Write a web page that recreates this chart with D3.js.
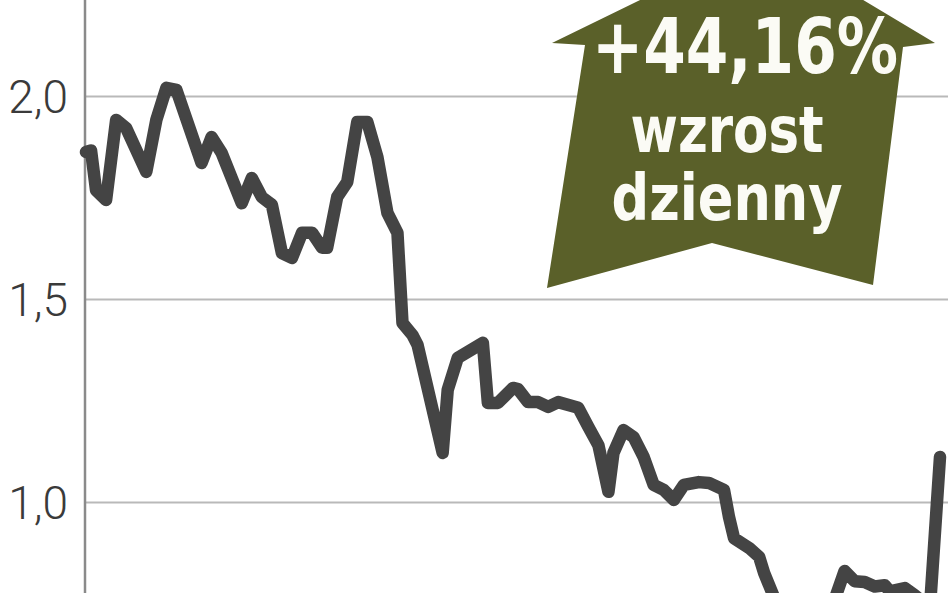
<!DOCTYPE html>
<html>
<head>
<meta charset="utf-8">
<script src="https://cdn.jsdelivr.net/npm/d3@7"></script>
<style>
  html, body { margin: 0; padding: 0; background: #fff; }
  svg { display: block; }
</style>
</head>
<body>
<svg id="chart" width="948" height="593"></svg>
<script>
(function() {
// kurs akcji - sesje i ceny zamkniecia

var sessions = [0, 1, 2, 4, 6, 8, 12, 14, 16, 18, 23, 25, 27, 31, 33, 35, 37, 39, 41, 43,
  45, 47, 48, 50, 52, 54, 56, 58, 60, 62, 63, 65, 66, 71, 72, 74, 79, 80, 82, 85,
  86, 88, 90, 92, 94, 98, 100, 102, 104, 105, 107, 109, 111, 113, 115, 117, 119, 122, 124, 127,
  128, 129, 132, 134, 135, 138, 140, 143, 146, 149, 151, 153, 155, 157, 159, 160, 163, 165, 168, 170];

var prices = [1.862, 1.866, 1.768, 1.744, 1.941, 1.921, 1.813, 1.941, 2.020, 2.015, 1.835, 1.899, 1.860, 1.736, 1.798, 1.751, 1.732, 1.613, 1.601, 1.663,
  1.663, 1.626, 1.626, 1.751, 1.788, 1.936, 1.936, 1.850, 1.712, 1.663, 1.441, 1.411, 1.387, 1.121, 1.276, 1.355, 1.392, 1.244, 1.244, 1.281,
  1.278, 1.246, 1.246, 1.234, 1.246, 1.232, 1.185, 1.140, 1.025, 1.121, 1.177, 1.160, 1.111, 1.042, 1.030, 1.005, 1.042, 1.049, 1.047, 1.030,
  0.963, 0.911, 0.887, 0.865, 0.825, 0.734, 0.697, 0.685, 0.704, 0.759, 0.830, 0.805, 0.803, 0.792, 0.795, 0.780, 0.788, 0.770, 0.740, 1.111];

var yTicks = [1.0, 1.5, 2.0];
var tickLabels = ["1,0", "1,5", "2,0"];

var badgeLines = ["+44,16%", "wzrost", "dzienny"];

var width = 948, height = 593;
var margin = {left: 85, right: 8};

var svg = d3.select("#chart");

var x = d3.scaleLinear()
  .domain([0, d3.max(sessions)])
  .range([margin.left + 1, width - margin.right]);

var y = d3.scaleLinear()
  .domain([1.0, 2.0])
  .range([502, 96]);

// gridlines + tick labels
var yAxis = d3.axisLeft(y)
  .tickValues(yTicks)
  .tickSize(-(width - margin.left))
  .tickPadding(17)
  .tickFormat(function(d, i) { return tickLabels[i]; });

var axisG = svg.append("g")
  .attr("transform", "translate(" + margin.left + ",0)")
  .call(yAxis);

axisG.select(".domain").remove();
axisG.selectAll(".tick line")
  .attr("stroke", "#b9b9b9")
  .attr("stroke-width", 2);
axisG.selectAll(".tick text")
  .attr("dy", "0.36em")
  .style("font-family", "Roboto, 'Open Sans', sans-serif")
  .style("font-weight", 300)
  .style("font-size", "46px")
  .attr("fill", "#3a3a3a");

// vertical axis over the full height
svg.append("line")
  .attr("x1", margin.left).attr("x2", margin.left)
  .attr("y1", 0).attr("y2", height)
  .attr("stroke", "#8a8a8a")
  .attr("stroke-width", 2.5);

// price line
var line = d3.line()
  .x(function(d, i) { return x(sessions[i]); })
  .y(function(d) { return y(d); });

svg.append("path")
  .datum(prices)
  .attr("d", line)
  .attr("fill", "none")
  .attr("stroke", "#444444")
  .attr("stroke-width", 12.5)
  .attr("stroke-linejoin", "round")
  .attr("stroke-linecap", "round");

// arrow badge
var arrow = [[763, -60], [935, 43], [903, 47], [873, 285], [712, 243],
  [547, 288], [585, 45], [552, 43]];

svg.append("path")
  .attr("d", "M" + arrow.join("L") + "Z")
  .attr("fill", "#5a6029");

var badge = [
  {size: 76, cx: 745, base: 73, len: 306},
  {size: 64, cx: 727, base: 152, len: 193},
  {size: 64, cx: 727, base: 220, len: 231}
];

svg.selectAll(".badge")
  .data(badgeLines)
  .join("text")
    .attr("class", "badge")
    .attr("x", function(d, i) { return badge[i].cx; })
    .attr("y", function(d, i) { return badge[i].base; })
    .attr("text-anchor", "middle")
    .attr("textLength", function(d, i) { return badge[i].len; })
    .attr("lengthAdjust", "spacingAndGlyphs")
    .style("font-family", "'DejaVu Sans Condensed', 'DejaVu Sans', sans-serif")
    .style("font-weight", "bold")
    .style("font-size", function(d, i) { return badge[i].size + "px"; })
    .attr("fill", "#fbfbf5")
    .text(function(d) { return d; });

})();
</script>
</body>
</html>
